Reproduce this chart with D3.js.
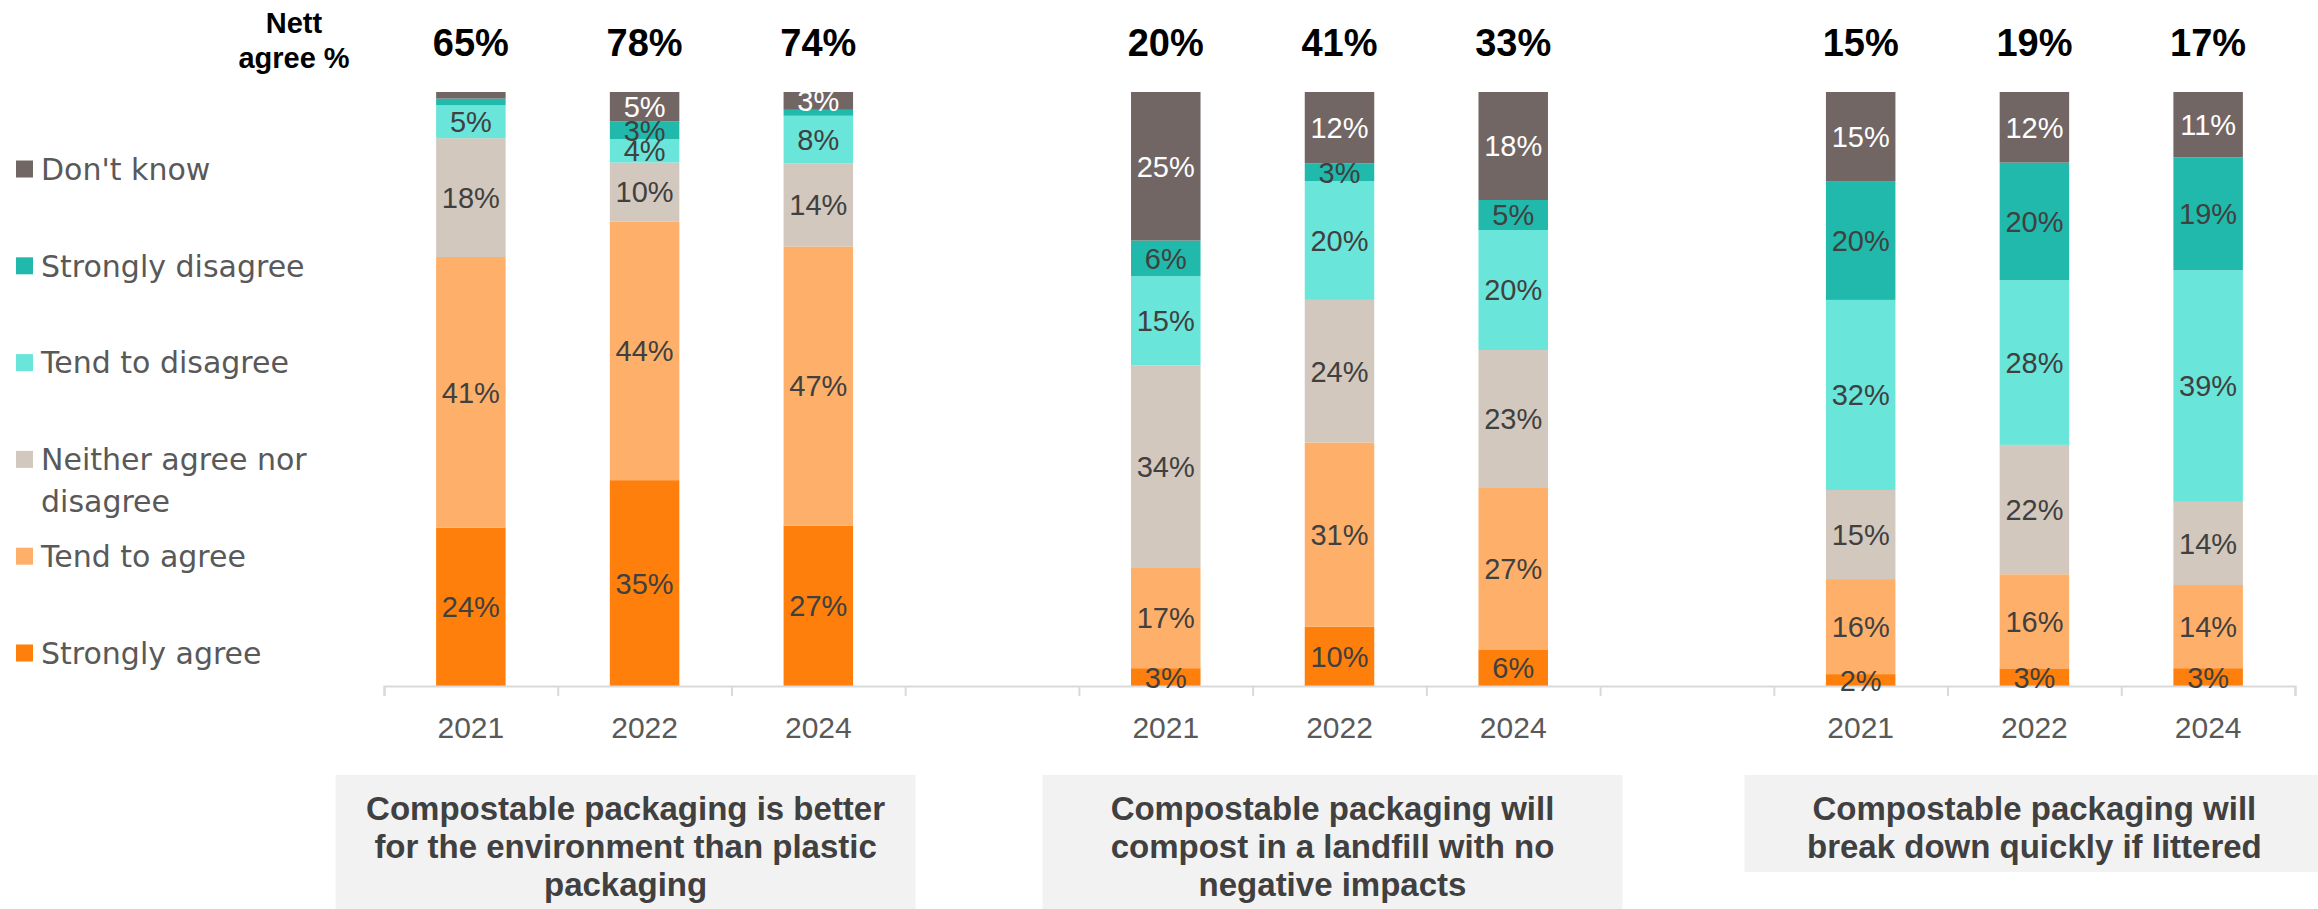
<!DOCTYPE html>
<html><head><meta charset="utf-8">
<script src="https://cdn.jsdelivr.net/npm/d3@7"></script>
<style>
html,body{margin:0;padding:0;background:#fff;}
svg{display:block;}
</style></head>
<body>
<svg id="chart" width="2318" height="909"></svg>
<script>
// ---------- DATA ----------
const years = ["2021", "2022", "2024"];
const groupTitles = [
  ["Compostable packaging is better", "for the environment than plastic", "packaging"],
  ["Compostable packaging will", "compost in a landfill with no", "negative impacts"],
  ["Compostable packaging will", "break down quickly if littered"]
];
const seriesNames = ["Strongly agree", "Tend to agree", "Neither agree nor disagree", "Tend to disagree", "Strongly disagree", "Don't know"];
const stronglyAgree    = [24, 35, 27,  3, 10,  6,  2,  3,  3];
const tendToAgree      = [41, 44, 47, 17, 31, 27, 16, 16, 14];
const neither          = [18, 10, 14, 34, 24, 23, 15, 22, 14];
const tendToDisagree   = [ 5,  4,  8, 15, 20, 20, 32, 28, 39];
const stronglyDisagree = [ 1,  3,  1,  6,  3,  5, 20, 20, 19];
const dontKnow         = [ 1,  5,  3, 25, 12, 18, 15, 12, 11];
const nettAgree        = [65, 78, 74, 20, 41, 33, 15, 19, 17];
const legendLabels = [["Don't know"], ["Strongly disagree"], ["Tend to disagree"], ["Neither agree nor", "disagree"], ["Tend to agree"], ["Strongly agree"]];

// ---------- STYLE ----------
const colors = ["#fe7f0b", "#feb06a", "#d3c8bd", "#6ae5da", "#20b9ab", "#716664"];
const seriesValues = [stronglyAgree, tendToAgree, neither, tendToDisagree, stronglyDisagree, dontKnow];

// slots: 3 bars, gap, 3 bars, gap, 3 bars
const slots = [];
const bars = [];
groupTitles.forEach((t, g) => {
  years.forEach((y, j) => {
    const key = "g" + g + "-" + y;
    slots.push(key);
    bars.push({key, year: y, idx: g * 3 + j});
  });
  if (g < groupTitles.length - 1) slots.push("gap" + g);
});

const svg = d3.select("#chart");
const x = d3.scaleBand().domain(slots).range([384, 2295]).paddingInner(0.6).paddingOuter(0.3);
const xs = d3.scaleLinear().domain([0, slots.length]).range([384, 2295]);
const y = d3.scaleLinear().domain([0, 1]).range([686, 92]);

// stacked (normalised) data
const rows = bars.map(b => {
  const r = {key: b.key};
  const tot = d3.sum(seriesValues, s => s[b.idx]);
  seriesNames.forEach((n, k) => { r[n] = seriesValues[k][b.idx] / tot; r["raw_" + n] = seriesValues[k][b.idx]; });
  return r;
});
const stack = d3.stack().keys(seriesNames)(rows);

const gBars = svg.append("g");
stack.forEach((layer, k) => {
  const gl = gBars.append("g").attr("fill", colors[k]);
  gl.selectAll("rect").data(layer).join("rect")
    .attr("x", d => x(d.data.key))
    .attr("width", x.bandwidth())
    .attr("y", d => y(d[1]))
    .attr("height", d => y(d[0]) - y(d[1]));
});

// axis
const axisG = svg.append("g").attr("transform", "translate(0,686)");
axisG.call(d3.axisBottom(xs).tickValues(d3.range(0, slots.length + 1)).tickSize(10).tickFormat(""));
axisG.select(".domain").attr("stroke", "#d9d9d9").attr("stroke-width", 2);
axisG.selectAll(".tick line").attr("stroke", "#d9d9d9").attr("stroke-width", 2);

const yearAxis = svg.append("g").attr("transform", "translate(0,686)")
  .call(d3.axisBottom(x).tickValues(bars.map(b => b.key)).tickSize(0).tickFormat(k => k.split("-")[1]));
yearAxis.select(".domain").remove();
yearAxis.selectAll("text").attr("font-family", "Liberation Sans, Arial, sans-serif")
  .attr("font-size", 30).attr("fill", "#595959").attr("dy", "0").attr("y", 52);

// segment labels
stack.forEach((layer, k) => {
  svg.append("g").selectAll("text").data(layer.filter(d => d.data["raw_" + seriesNames[k]] >= 2)).join("text")
    .attr("x", d => x(d.data.key) + x.bandwidth() / 2)
    .attr("y", d => (y(d[0]) + y(d[1])) / 2)
    .attr("dy", "0.36em")
    .attr("text-anchor", "middle")
    .attr("font-family", "Liberation Sans, Arial, sans-serif")
    .attr("font-size", 29)
    .attr("fill", k === 5 ? "#ffffff" : "#404040")
    .text(d => d.data["raw_" + seriesNames[k]] + "%");
});

// nett agree labels
svg.append("g").selectAll("text").data(bars).join("text")
  .attr("x", d => x(d.key) + x.bandwidth() / 2)
  .attr("y", 42).attr("dy", "0.36em")
  .attr("text-anchor", "middle")
  .attr("font-family", "Liberation Sans, Arial, sans-serif")
  .attr("font-weight", "bold").attr("font-size", 38).attr("fill", "#000")
  .text(d => nettAgree[d.idx] + "%");

const nettHead = svg.append("text").attr("text-anchor", "middle")
  .attr("font-family", "Liberation Sans, Arial, sans-serif").attr("font-weight", "bold")
  .attr("font-size", 29).attr("fill", "#000");
nettHead.append("tspan").attr("x", 294).attr("y", 33).text("Nett");
nettHead.append("tspan").attr("x", 294).attr("y", 68).text("agree %");

// legend
const legendY = d3.scalePoint().domain(d3.range(6)).range([169, 653]);
const legendOrder = [5, 4, 3, 2, 1, 0];
const lg = svg.append("g").selectAll("g").data(legendOrder).join("g")
  .attr("transform", (d, i) => `translate(0,${legendY(i)})`);
lg.append("rect").attr("x", 16).attr("y", -8.5).attr("width", 17).attr("height", 17).attr("fill", d => colors[d]);
lg.each(function(d, i) {
  const t = d3.select(this).append("text").attr("font-family", "DejaVu Sans, sans-serif")
    .attr("font-size", 30).attr("fill", "#595959");
  legendLabels[i].forEach((line, li) => {
    t.append("tspan").attr("x", 41).attr("y", li * 42).attr("dy", "0.36em").text(line);
  });
});

// group title boxes
const boxOffsets = [-19, -7, 0];
const boxHeights = [150, 150, 97];
groupTitles.forEach((lines, g) => {
  const cx = xs(g * 4 + 1.5) + boxOffsets[g];
  const gg = svg.append("g");
  gg.append("rect").attr("x", cx - 290).attr("y", 775).attr("width", 580).attr("height", boxHeights[g]).attr("fill", "#f2f2f2");
  const t = gg.append("text").attr("text-anchor", "middle")
    .attr("font-family", "Liberation Sans, Arial, sans-serif").attr("font-weight", "bold")
    .attr("font-size", 33).attr("fill", "#404040");
  lines.forEach((l, li) => t.append("tspan").attr("x", cx).attr("y", 808 + li * 38).attr("dy", "0.36em").text(l));
});
</script>
</body></html>
